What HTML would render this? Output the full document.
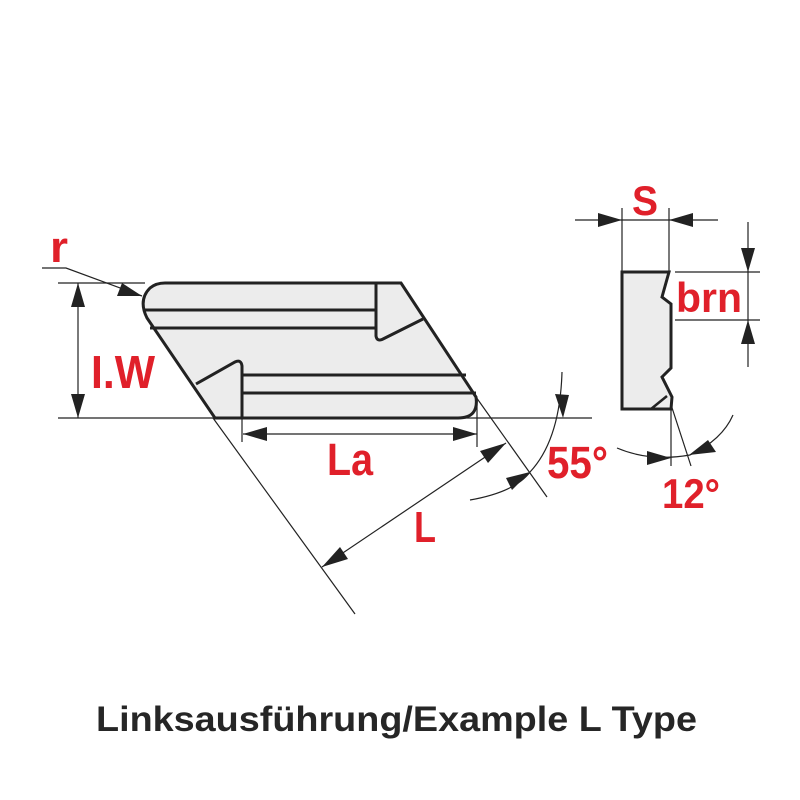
<!DOCTYPE html>
<html><head><meta charset="utf-8"><style>html,body{margin:0;padding:0;background:#fff}svg{display:block}</style></head>
<body>
<svg width="800" height="800" viewBox="0 0 800 800" xmlns="http://www.w3.org/2000/svg">
<g stroke="#222" fill="none">
<path d="M165,283 L401,283 L476,397 Q479,418 458,418 L242,418 L215,418 L147,318 Q138,300 150,288 Q156,283 165,283 Z" fill="#ececec" stroke-width="3"/>
<line x1="145" y1="310" x2="376" y2="310" stroke-width="3"/>
<line x1="150" y1="328" x2="376" y2="328" stroke-width="3"/>
<path d="M376,283 L376,336 Q377,342 383,339 L423,319" stroke-width="3"/>
<line x1="242" y1="375" x2="466" y2="375" stroke-width="3"/>
<line x1="242" y1="393" x2="476" y2="393" stroke-width="3"/>
<path d="M242,418 L242,366 Q241,359 235,362 L196,384" stroke-width="3"/>
<g stroke-width="1.2">
<line x1="58" y1="283" x2="145" y2="283"/>
<line x1="58" y1="418" x2="592" y2="418"/>
<line x1="78" y1="283" x2="78" y2="418"/>
<line x1="213" y1="418" x2="355" y2="614"/>
<line x1="476" y1="397" x2="547" y2="497"/>
<line x1="242" y1="418" x2="242" y2="442"/>
<line x1="477" y1="400" x2="477" y2="447"/>
<line x1="243" y1="434" x2="477" y2="434"/>
<line x1="322" y1="567" x2="506" y2="443"/>
<polyline points="42,268 66,268 142,296"/>
<path d="M470,500 Q515,492 530,472 Q560,440 562,372"/>
<line x1="622" y1="208" x2="622" y2="272"/>
<line x1="669" y1="208" x2="669" y2="272"/>
<line x1="575" y1="220" x2="718" y2="220"/>
<line x1="675" y1="272" x2="760" y2="272"/>
<line x1="675" y1="320" x2="760" y2="320"/>
<line x1="748" y1="222" x2="748" y2="367"/>
<line x1="671" y1="409" x2="671" y2="466"/>
<line x1="662" y1="377" x2="691" y2="466"/>
<path d="M617,448 Q650,462 690,455 Q722,440 733,415"/>
</g>
<path d="M622,272 L669,272 L662,297 L671,304 L671,368 L662,377 L672,397 L671,409 L622,409 Z" fill="#ececec" stroke-width="3" stroke-linejoin="miter"/>
<line x1="651" y1="409" x2="667" y2="396" stroke-width="2.5"/>
</g>
<g fill="#222">
<polygon points="78,283 71,307 85,307"/>
<polygon points="78,418 71,394 85,394"/>
<polygon points="142,296 117,296 122,283"/>
<polygon points="243,434 267,427 267,441"/>
<polygon points="477,434 453,427 453,441"/>
<polygon points="506,443 480,451 488,463"/>
<polygon points="322,567 348,559 340,547"/>
<polygon points="530,472 506,478 512,490"/>
<polygon points="563,418 555,394 569,395"/>
<polygon points="622,220 598,213 598,227"/>
<polygon points="669,220 693,213 693,227"/>
<polygon points="748,272 741,248 755,248"/>
<polygon points="748,320 741,344 755,344"/>
<polygon points="671,458 647,451 647,465"/>
<polygon points="689,455 708,440 716,452"/>
</g>
<g fill="#e0202a" font-family="'Liberation Sans',sans-serif" font-weight="bold">
<text x="50" y="262" font-size="44" textLength="18" lengthAdjust="spacingAndGlyphs">r</text>
<text x="91" y="388" font-size="46" textLength="64" lengthAdjust="spacingAndGlyphs">I.W</text>
<text x="327" y="475" font-size="45" textLength="46" lengthAdjust="spacingAndGlyphs">La</text>
<text x="414" y="542" font-size="44" textLength="22" lengthAdjust="spacingAndGlyphs">L</text>
<text x="547" y="478" font-size="45" textLength="61" lengthAdjust="spacingAndGlyphs">55°</text>
<text x="632" y="215" font-size="42" textLength="26" lengthAdjust="spacingAndGlyphs">S</text>
<text x="676" y="312" font-size="42" textLength="66" lengthAdjust="spacingAndGlyphs">brn</text>
<text x="662" y="508" font-size="42" textLength="58" lengthAdjust="spacingAndGlyphs">12°</text>
</g>
<text x="96" y="731" font-family="'Liberation Sans',sans-serif" font-weight="bold" font-size="35" fill="#262626" textLength="601" lengthAdjust="spacingAndGlyphs">Linksausführung/Example L Type</text>
</svg>
</body></html>
